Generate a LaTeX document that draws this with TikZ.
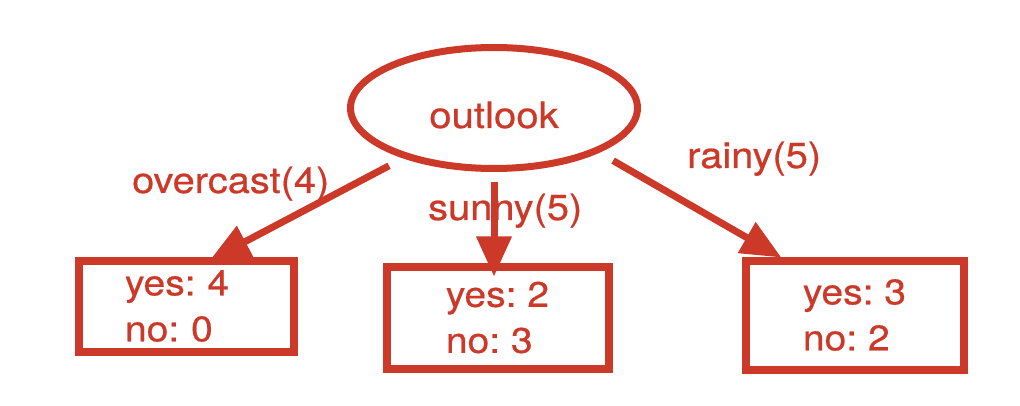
\documentclass[tikz,border=0pt]{standalone}
\usepackage{fontspec}
\setmainfont{TeX Gyre Heros}[FakeStretch=1.1,FakeBold=0.6]
\usetikzlibrary{arrows.meta,shapes.geometric}
\definecolor{tred}{RGB}{204,57,41}
\frenchspacing
\begin{document}
\begin{tikzpicture}[x=1pt,y=-1pt,
  rootnode/.style={ellipse, draw=tred, line width=7pt, minimum width=287pt, minimum height=121pt,
    inner sep=0pt, text=tred, font=\fontsize{36.5}{40}\selectfont, text height=40pt, text depth=0pt},
  leaf/.style={rectangle, draw=tred, line width=8pt, inner sep=0pt, text=tred,
    font=\fontsize{35.5}{46}\selectfont, align=left},
  lbl/.style={text=tred, font=\fontsize{36.2}{42}\selectfont, anchor=base west, inner sep=0pt},
  arr/.style={draw=tred, line width=7pt, -{Triangle[length=40pt,width=34pt]}}]
\useasboundingbox (0,0) rectangle (1020,406);
\node[rootnode] (root) at (494,108) {outlook};
\node[leaf, minimum width=215pt, minimum height=91pt, text width=122pt] (b1) at (186,306) {yes: 4\\no: 0};
\node[leaf, minimum width=222pt, minimum height=102pt] (b2) at (497.5,317.5) {yes: 2\\no: 3};
\node[leaf, minimum width=218pt, minimum height=109pt] (b3) at (854.5,315) {yes: 3\\no: 2};
\node[lbl] (lo) at (132,193) {overcast(4)};
\node[lbl] (ls) at (428,220) {sunny(5)};
\node[lbl] (lr) at (687,168) {rainy(5)};
\draw[arr, shorten <=16pt, shorten >=-8pt] (root.209) -- (b1.58);
\draw[arr, shorten <=10pt, shorten >=-14pt] (root.south) -- (root.south |- b2.north);
\draw[arr, shorten <=16pt, shorten >=-2pt] (root.337) -- (b3.142);
\end{tikzpicture}
\end{document}
